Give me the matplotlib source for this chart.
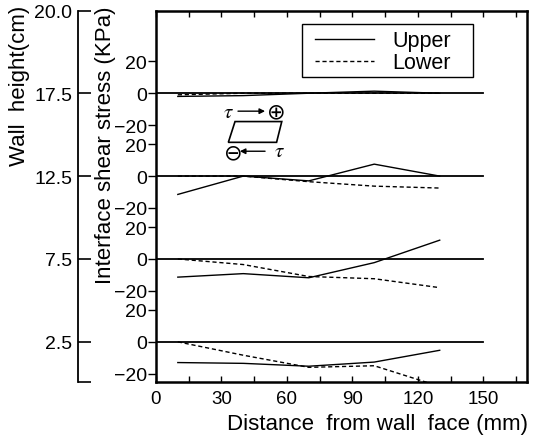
import matplotlib
matplotlib.use("Agg")
import matplotlib.pyplot as plt
from matplotlib.patches import Polygon, Rectangle
from matplotlib.ticker import FixedLocator, MultipleLocator

plt.rcParams.update({
    "font.family": ["Liberation Sans", "DejaVu Sans"],
    "mathtext.fontset": "stix",
})

# ── Data ────────────────────────────────────────────────────────────────
distance = [10, 40, 70, 100, 130]          # mm from wall face
heights = ["17.5", "12.5", "7.5", "2.5"]    # wall height (cm), top -> bottom

upper_175 = [-2, -1.5, 0, 1.3, 0]
lower_175 = [-1, 0, 0, 0, 0]
upper_125 = [-11.5, 0, -3, 7.5, 0]
lower_125 = [0, 0, -3.5, -6.3, -7.5]
upper_75 = [-11.4, -9.2, -11.8, -2.3, 11.8]
lower_75 = [0, -3.5, -11, -12.4, -18]
upper_25 = [-13, -13.5, -15.3, -12.7, -5.3]
lower_25 = [0, -8.4, -16, -15, -28]

uppers = [upper_175, upper_125, upper_75, upper_25]
lowers = [lower_175, lower_125, lower_75, lower_25]

stress_ticks = [-20, 0, 20]
stress_labels = ["\u221220", "0", "20"]

# panels are stacked on one axis, STEP stress units apart
STEP = 52
offsets = [3 * STEP, 2 * STEP, STEP, 0]
Y_LO, Y_HI = -25.2, 3 * STEP + 51.6

fig = plt.figure(figsize=(5.4, 4.39), dpi=100)
ax = fig.add_axes([156 / 540, 1 - 383 / 439, 371 / 540, 371 / 439])

for off, up, lo in zip(offsets, uppers, lowers):
    ax.plot([0, 150], [off, off], color="black", lw=1.3)
    ax.plot(distance, [v + off for v in up], color="black", lw=1.0,
            label="Upper" if off == offsets[0] else None)
    ax.plot(distance, [v + off for v in lo], color="black", lw=1.0,
            linestyle=(0, (3, 2)), label="Lower" if off == offsets[0] else None)

ax.set_xlim(0, 170)
ax.set_ylim(Y_LO, Y_HI)
ax.xaxis.set_major_locator(FixedLocator([0, 30, 60, 90, 120, 150]))
ax.xaxis.set_minor_locator(MultipleLocator(15))
ax.tick_params(axis="x", which="both", direction="in", top=True, length=4,
               width=1.0, labelsize=13.5, pad=6)

yt, yl = [], []
for off in offsets:
    for t, l in zip(stress_ticks, stress_labels):
        yt.append(off + t)
        yl.append(l)
ax.set_yticks(yt)
ax.set_yticklabels(yl)
ax.tick_params(axis="y", direction="out", length=6, width=1.0,
               labelsize=14, pad=0.5)
for s in ax.spines.values():
    s.set_linewidth(1.8)

ax.set_ylabel("Interface shear stress (KPa)", fontsize=16)
ax.yaxis.set_label_coords(-0.108, 0.64)
fig.text(528 / 540, 1 - 425 / 439, "Distance  from wall  face (mm)",
         fontsize=16, ha="right", va="center")

# legend: frameless entries plus a square box around them
leg = ax.legend(loc="upper left", bbox_to_anchor=(0.4286, 0.948),
                borderaxespad=0, borderpad=0, fontsize=15.5, frameon=False,
                handlelength=2.75, handletextpad=0.85, labelspacing=0.05)
ax.add_patch(Rectangle((0.394, 0.822), 0.461, 0.143, fill=False, lw=1.0,
                       edgecolor="black", transform=ax.transAxes, zorder=5))

# sign convention sketch
ax.text(0.194, 0.730, r"$\tau$", transform=ax.transAxes, fontsize=15,
        ha="center", va="center")
ax.text(0.325, 0.729, "\u2295", transform=ax.transAxes, fontsize=16,
        ha="center", va="center", family="DejaVu Sans")
ax.annotate("", xy=(0.294, 0.730), xytext=(0.221, 0.730),
            xycoords="axes fraction",
            arrowprops=dict(arrowstyle="-|>", lw=1.0, color="black",
                            mutation_scale=8, shrinkA=0, shrinkB=0))
ax.add_patch(Polygon([(0.213, 0.702), (0.339, 0.702), (0.325, 0.646),
                      (0.195, 0.646)], closed=True, fill=False, lw=1.2,
                     edgecolor="black", transform=ax.transAxes))
ax.text(0.208, 0.619, "\u2296", transform=ax.transAxes, fontsize=16,
        ha="center", va="center", family="DejaVu Sans")
ax.annotate("", xy=(0.226, 0.622), xytext=(0.294, 0.622),
            xycoords="axes fraction",
            arrowprops=dict(arrowstyle="-|>", lw=1.0, color="black",
                            mutation_scale=8, shrinkA=0, shrinkB=0))
ax.text(0.334, 0.623, r"$\tau$", transform=ax.transAxes, fontsize=15,
        ha="center", va="center")

# wall height axis
ax_h = fig.add_axes([78 / 540, 1 - 383 / 439, 0.001, 371 / 439])
ax_h.set_ylim(Y_LO, Y_HI)
ax_h.set_xticks([])
ax_h.set_yticks([Y_HI] + offsets + [Y_LO])
ax_h.set_yticklabels(["20.0"] + heights + [""])
ax_h.tick_params(axis="y", direction="in", length=9, width=1.2,
                 labelsize=14, pad=4)
for side in ["top", "right", "bottom"]:
    ax_h.spines[side].set_visible(False)
ax_h.spines["left"].set_linewidth(1.3)
ax_h.patch.set_visible(False)

fig.text(20 / 540, 1 - 86 / 439, "Wall  height(cm)", rotation=90,
         fontsize=16, ha="center", va="center")

fig.savefig("out.png", dpi=100, facecolor="white")
